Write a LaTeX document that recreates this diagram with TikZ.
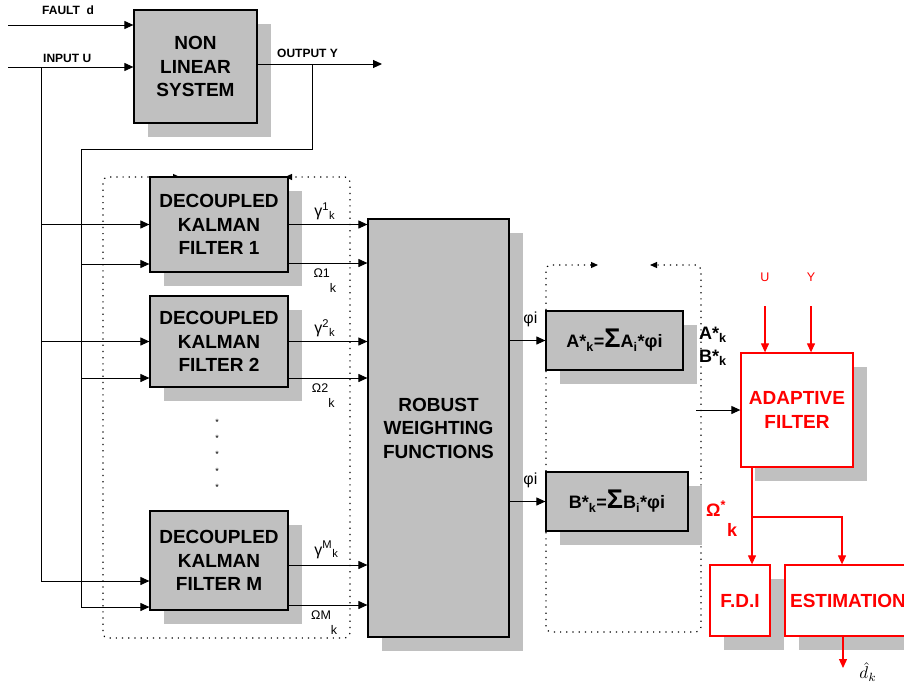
\documentclass[tikz,border=0pt]{standalone}
\usepackage{fontspec}
\setmainfont{Liberation Sans}
\usepackage{amsmath}
\usetikzlibrary{arrows.meta,shadows,calc}
\definecolor{boxgray}{RGB}{192,192,192}

\begin{document}
\begin{tikzpicture}[x=1pt,y=-1pt]
\tikzstyle{block}=[draw=black,line width=1.2pt,fill=boxgray,align=center,inner sep=0pt,
  font=\fontsize{19}{23.5}\selectfont\bfseries,
  drop shadow={shadow xshift=14pt,shadow yshift=-14pt,fill=boxgray,draw=none,opacity=1}]
\tikzstyle{redblock}=[block,draw=red,fill=white,text=red,line width=1.3pt]
\tikzstyle{arr}=[-{Triangle[length=9pt,width=8pt]},line width=1pt]
\tikzstyle{redarr}=[arr,red,line width=1.2pt]
\tikzstyle{fbloop}=[line width=1.2pt,dash pattern=on 1.2pt off 5pt,rounded corners=5pt,
  {Triangle[length=7pt,width=6pt]}-{Triangle[length=7pt,width=6pt]}]
\tikzstyle{lbl}=[font=\fontsize{12}{14}\selectfont\bfseries,inner sep=0pt]
\tikzstyle{sig}=[font=\fontsize{16}{18}\selectfont,inner sep=0pt]
\tikzstyle{small}=[font=\fontsize{12.5}{14}\selectfont,inner sep=0pt]

\useasboundingbox (0,0) rectangle (904,688);

% dotted feedback frames (behind the blocks)
\draw[fbloop] (180,177) -- (103,177) -- (103,638) -- (350,638) -- (350,177) -- (285,177);
\draw[fbloop] (598,265) -- (546,265) -- (546,632) -- (701,632) -- (701,265) -- (650,265);

\node[block,minimum width=123pt,minimum height=113pt] (nls) at (195.5,66.5) {NON\\LINEAR\\SYSTEM};
\node[block,minimum width=138pt,minimum height=95pt] (kf1) at (219,224.5) {DECOUPLED\\KALMAN\\FILTER 1};
\node[block,minimum width=138pt,minimum height=91pt] (kf2) at (219,341.5) {DECOUPLED\\KALMAN\\FILTER 2};
\node[block,minimum width=138pt,minimum height=99pt] (kfm) at (219,560.5) {DECOUPLED\\KALMAN\\FILTER M};
\node[block,minimum width=141pt,minimum height=418pt] (rwf) at (438.5,428) {ROBUST\\WEIGHTING\\FUNCTIONS};
\node[block,minimum width=137pt,minimum height=59pt,font=\fontsize{18}{20}\selectfont\bfseries] (asum) at (614.5,340.5)
  {A*\textsubscript{k}={\fontsize{27}{27}\selectfont Σ}A\textsubscript{i}*φi};
\node[block,minimum width=142pt,minimum height=59pt,font=\fontsize{18}{20}\selectfont\bfseries] (bsum) at (617,501.5)
  {B*\textsubscript{k}={\fontsize{27}{27}\selectfont Σ}B\textsubscript{i}*φi};
\node[redblock,minimum width=112pt,minimum height=114pt] (adf) at (797,410) {ADAPTIVE\\FILTER};
\node[redblock,minimum width=60pt,minimum height=71pt] (fdi) at (740,600.5) {F.D.I};
\node[redblock,minimum width=126pt,minimum height=71pt] (est) at (848,600.5) {ESTIMATION};

\foreach \y in {422,438,454,471,487}
  \node[font=\fontsize{9}{9}\selectfont,inner sep=0pt] at (217,\y) {*};

% plant
\coordinate (fault) at (8,25);
\coordinate (inu) at (8,67);
\coordinate (outy) at (382,64);
\draw[arr] (fault) -- (nls.west |- fault);
\draw[arr] (inu) -- (nls.west |- inu);
\draw[arr] (nls.east |- outy) -- (outy);
\node[lbl,anchor=base west] at (42,14) {FAULT\ \ d};
\node[lbl,anchor=base west] at (43,62) {INPUT U};
\node[lbl,anchor=base west] at (277,57) {OUTPUT Y};

% input bus U
\coordinate (ubus) at (41,67);
\draw[arr] (ubus) |- ($(kfm.west)+(0,20.5)$);
\draw[arr] (ubus |- kf1.west) -- (kf1.west);
\draw[arr] (ubus |- kf2.west) -- (kf2.west);

% output bus Y
\coordinate (ytap) at (312,64);
\coordinate (ybus) at (81,149);
\draw[arr] (ytap) |- (ybus) |- ($(kfm.west)+(0,46.5)$);
\coordinate (k1b) at ($(kf1.west)+(0,39.5)$);
\coordinate (k2b) at ($(kf2.west)+(0,36.5)$);
\draw[arr] (ybus |- k1b) -- (k1b);
\draw[arr] (ybus |- k2b) -- (k2b);

% filter outputs
\coordinate (k1o) at ($(kf1.east)+(0,38.5)$);
\coordinate (k2o) at ($(kf2.east)+(0,36.5)$);
\coordinate (kmg) at ($(kfm.east)+(0,4.5)$);
\coordinate (kmo) at ($(kfm.east)+(0,44.5)$);
\draw[arr] (kf1.east) -- (rwf.west |- kf1.east) node[sig,pos=.46,above=4pt] {γ\textsuperscript{1}\textsubscript{k}};
\draw[arr] (k1o) -- (rwf.west |- k1o) node[small,pos=.31,below=5pt,anchor=north west] {Ω1\raisebox{-15pt}{k}};
\draw[arr] (kf2.east) -- (rwf.west |- kf2.east) node[sig,pos=.46,above=4pt] {γ\textsuperscript{2}\textsubscript{k}};
\draw[arr] (k2o) -- (rwf.west |- k2o) node[small,pos=.29,below=5pt,anchor=north west] {Ω2\raisebox{-15pt}{k}};
\draw[arr] (kmg) -- (rwf.west |- kmg) node[sig,pos=.48,above=6pt] {γ\textsuperscript{M}\textsubscript{k}};
\draw[arr] (kmo) -- (rwf.west |- kmo) node[small,pos=.28,below=5pt,anchor=north west] {ΩM\raisebox{-15pt}{k}};

% weights
\draw[arr] (rwf.east |- asum.west) -- (asum.west) node[sig,pos=.58,above=13pt] {φi};
\draw[arr] (rwf.east |- bsum.west) -- (bsum.west) node[sig,pos=.58,above=13pt] {φi};
\node[align=left,inner sep=0pt,anchor=west,font=\fontsize{18}{23}\selectfont\bfseries] at (699,346)
  {A*\textsubscript{k}\\B*\textsubscript{k}};

% adaptive filter
\coordinate (abin) at (696,410);
\draw[arr] (abin) -- (adf.west);
\node[small,red] (ulab) at (765,277) {U};
\node[small,red] (ylab) at (811,277) {Y};
\coordinate (uin) at (765,306);
\coordinate (yin) at (811,306);
\draw[redarr] (uin) -- (uin |- adf.north);
\draw[redarr] (yin) -- (yin |- adf.north);

\coordinate (split) at (752,517);
\draw[redarr] (adf.south -| split) -- (fdi.north -| split);
\draw[redarr] (split) -| ($(est.north)+(-6,0)$);
\node[red,inner sep=0pt,anchor=north west,font=\fontsize{18}{20}\selectfont\bfseries] at (706,501)
  {Ω\textsuperscript{*}\raisebox{-20pt}{\hspace{1pt}k}};

\coordinate (dhat) at (843,668);
\draw[redarr] (est.south -| dhat) -- (dhat);
\node[inner sep=0pt] at (868,672) {\scalebox{1.7}{$\hat{d}_k$}};
\end{tikzpicture}
\end{document}
